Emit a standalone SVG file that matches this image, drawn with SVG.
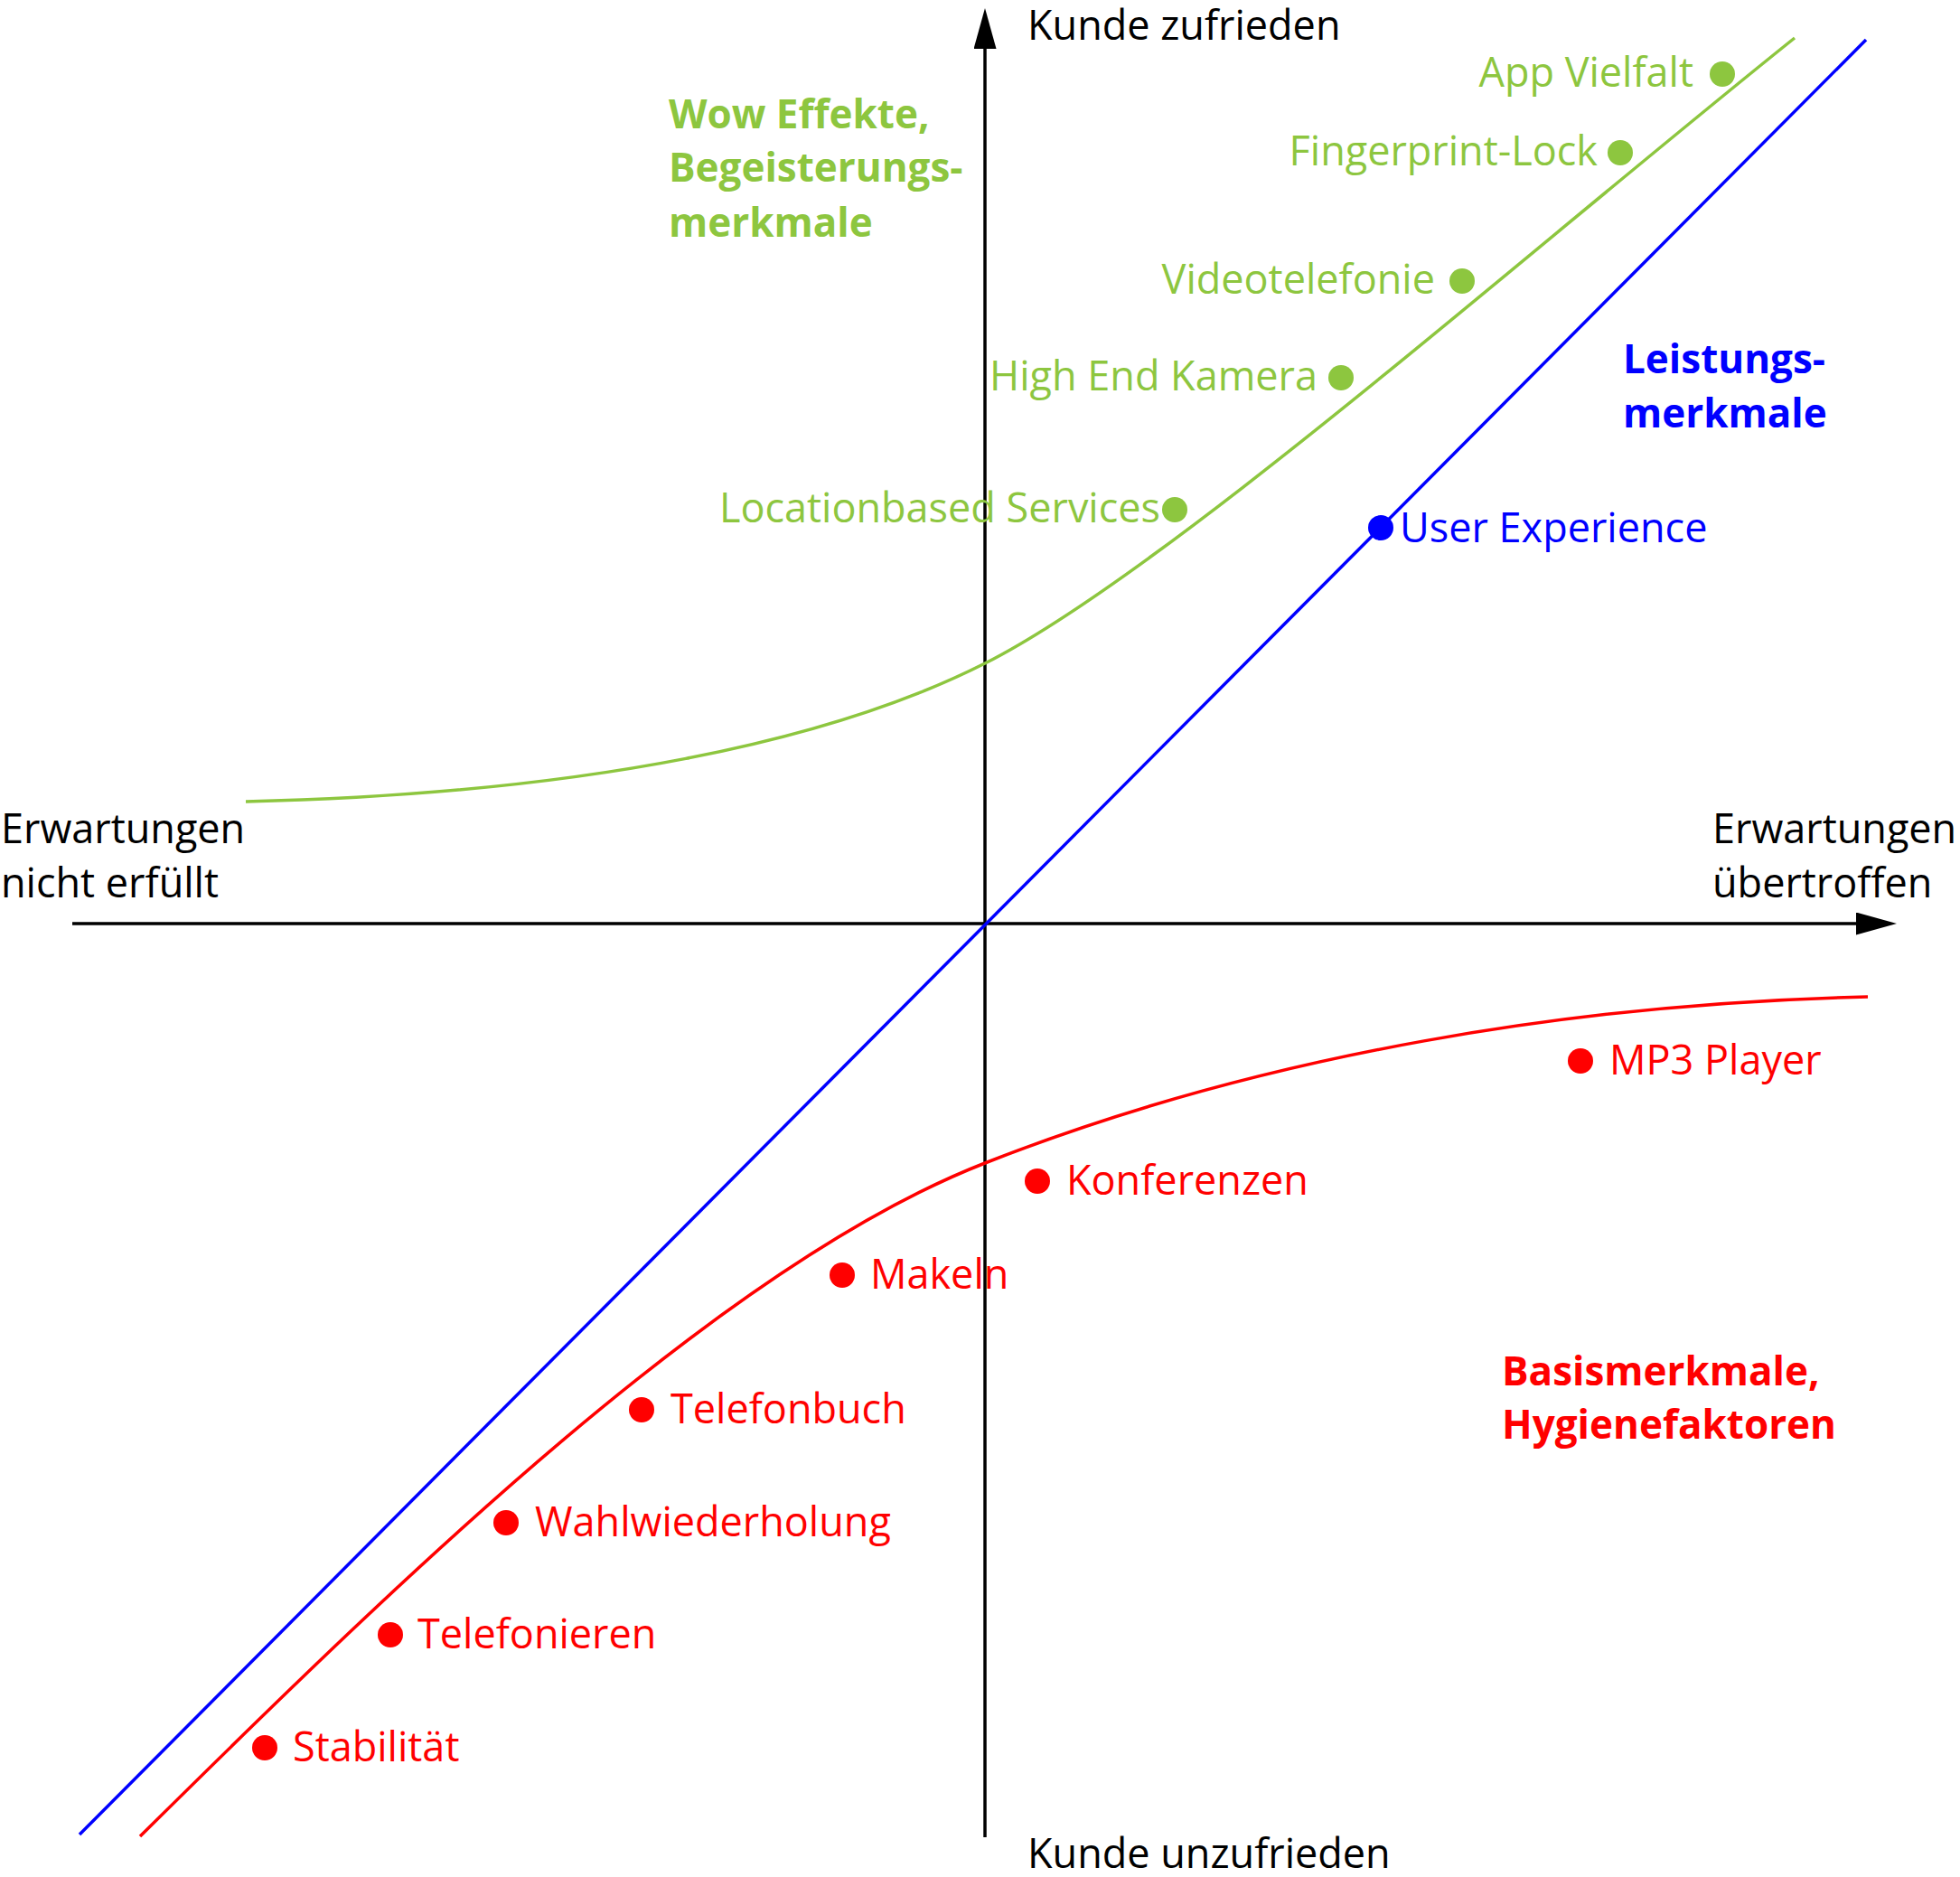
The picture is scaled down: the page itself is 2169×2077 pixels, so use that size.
<svg xmlns="http://www.w3.org/2000/svg" width="2169" height="2077" viewBox="0 0 2169 2077">
<style>
text{font-family:"Open Sans","Noto Sans","Liberation Sans",sans-serif;font-size:45px}
.b{font-weight:bold;font-size:44px}
.k{fill:#000}
.g{fill:#8dc63f}
.bl{fill:#0000ff}
.r{fill:#ff0000}
.e{text-anchor:end}
.ax{stroke:#000;stroke-width:3.5;fill:none}
.cv{stroke-width:3.5;fill:none}
</style>
<defs>
<marker id="arr" markerUnits="userSpaceOnUse" markerWidth="46" markerHeight="26" refX="0" refY="12.5" orient="auto" viewBox="0 0 46 26">
<path d="M0,0 L45,12.5 L0,25 z" fill="#000"/>
</marker>
</defs>
<rect width="2169" height="2077" fill="#fff"/>
<g id="connectors">
<line class="ax" x1="80" y1="1022" x2="2054" y2="1022" marker-end="url(#arr)"/>
<line class="ax" x1="1090" y1="2033" x2="1090" y2="54" marker-end="url(#arr)"/>
<path id="green-curve" class="cv" stroke="#8dc63f" d="M272,887 C650,878 920,820 1090,734 C1290,633 1686,282 1986,42"/>
<line id="blue-line" class="cv" stroke="#0000ff" x1="88" y1="2030" x2="2065" y2="44"/>
<path id="red-curve" class="cv" stroke="#ff0000" d="M155,2032 C450,1740 800,1400 1090,1287 C1400,1165 1750,1110 2067,1103"/>
</g>
<g id="axis-top"><text class="k" x="1137" y="44">Kunde zufrieden</text></g>
<g id="axis-bottom"><text class="k" x="1137" y="2067">Kunde unzufrieden</text></g>
<g id="axis-left"><text class="k" x="1" y="933">Erwartungen</text><text class="k" x="1" y="993">nicht erfüllt</text></g>
<g id="axis-right"><text class="k" x="1895" y="933">Erwartungen</text><text class="k" x="1895" y="993">übertroffen</text></g>
<g id="heading-wow"><text class="g b" x="740" y="142">Wow Effekte,</text><text class="g b" x="740" y="201">Begeisterungs-</text><text class="g b" x="740" y="262">merkmale</text></g>
<g id="heading-leistung"><text class="bl b" x="1796" y="413">Leistungs-</text><text class="bl b" x="1796" y="473">merkmale</text></g>
<g id="heading-basis"><text class="r b" x="1662" y="1533">Basismerkmale,</text><text class="r b" x="1662" y="1592">Hygienefaktoren</text></g>
<g id="app-vielfalt"><circle cx="1906" cy="82" r="14" fill="#8dc63f"/><text class="g e" x="1874" y="96">App Vielfalt</text></g>
<g id="fingerprint-lock"><circle cx="1793" cy="169" r="14" fill="#8dc63f"/><text class="g e" x="1768" y="183">Fingerprint-Lock</text></g>
<g id="videotelefonie"><circle cx="1618" cy="311" r="14" fill="#8dc63f"/><text class="g e" x="1588" y="325">Videotelefonie</text></g>
<g id="high-end-kamera"><circle cx="1484" cy="418" r="14" fill="#8dc63f"/><text class="g e" x="1458" y="432">High End Kamera</text></g>
<g id="locationbased-services"><circle cx="1300" cy="564" r="14" fill="#8dc63f"/><text class="g e" x="1284" y="578">Locationbased Services</text></g>
<g id="user-experience"><circle cx="1528" cy="584" r="14" fill="#0000ff"/><text class="bl" x="1549" y="600">User Experience</text></g>
<g id="mp3-player"><circle cx="1749" cy="1174" r="14" fill="#ff0000"/><text class="r" x="1781" y="1189">MP3 Player</text></g>
<g id="konferenzen"><circle cx="1148" cy="1307" r="14" fill="#ff0000"/><text class="r" x="1180" y="1322">Konferenzen</text></g>
<g id="makeln"><circle cx="932" cy="1411" r="14" fill="#ff0000"/><text class="r" x="963" y="1426">Makeln</text></g>
<g id="telefonbuch"><circle cx="710" cy="1560" r="14" fill="#ff0000"/><text class="r" x="742" y="1575">Telefonbuch</text></g>
<g id="wahlwiederholung"><circle cx="560" cy="1685" r="14" fill="#ff0000"/><text class="r" x="592" y="1700">Wahlwiederholung</text></g>
<g id="telefonieren"><circle cx="432" cy="1809" r="14" fill="#ff0000"/><text class="r" x="462" y="1824">Telefonieren</text></g>
<g id="stabilitaet"><circle cx="293" cy="1934" r="14" fill="#ff0000"/><text class="r" x="324" y="1949">Stabilität</text></g>
</svg>
